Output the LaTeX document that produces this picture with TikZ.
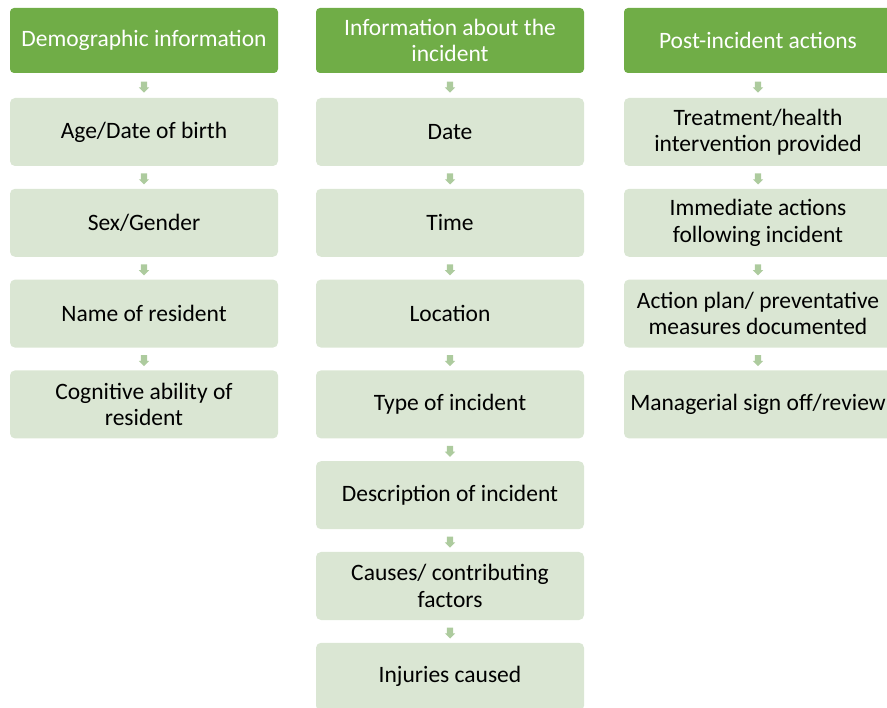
\documentclass[tikz,border=0pt]{standalone}
\usepackage{fontspec}
\setmainfont{Carlito}
\usetikzlibrary{calc,shapes.arrows}

\definecolor{hdgreen}{HTML}{70AD47}
\definecolor{boxgreen}{HTML}{DAE6D3}
\definecolor{arrgreen}{HTML}{ADCB9E}

\tikzset{
	head/.style={rectangle, rounded corners=4pt, fill=hdgreen, text=white,
		minimum width=268pt, minimum height=65pt, align=center, inner sep=2pt,
		font=\fontsize{23.5}{26.5}\selectfont},
	item/.style={rectangle, rounded corners=5pt, fill=boxgreen, text=black,
		minimum width=268pt, minimum height=68pt, align=center, inner sep=2pt,
		font=\fontsize{23.5}{26.5}\selectfont},
	downarrow/.style={single arrow, fill=arrgreen, shape border rotate=270,
		minimum height=11pt, inner sep=3pt, single arrow head extend=2pt}
}

\begin{document}
\begin{tikzpicture}[x=1pt,y=-1pt]
			
			%--- Khung ---
			\useasboundingbox (0,0) rectangle (887,708);
			\clip (0,0) rectangle (887,708);
			
			\def\rowgap{90.8} % khoảng cách giữa các ô
			\def\ytop{132}  % tâm ô đầu tiên
			
			%--- Tiêu đề ---
			\node[head] (h1) at (144,40.5) {Demographic information};
			\node[head] (h2) at (450,40.5) {Information about the\\incident};
			\node[head] (h3) at (758,40.5) {Post-incident actions};
			
			%--- Cột 1 ---
			\foreach \t [count=\i] in {Age/Date of birth, Sex/Gender, Name of resident,
				{Cognitive ability of\\resident}} {
				\node[item] (a\i) at (144,{\ytop+(\i-1)*\rowgap}) {\t};
			}
			
			%--- Cột 2 ---
			\foreach \t [count=\i] in {Date, Time, Location, Type of incident,
				Description of incident, {Causes/ contributing\\factors}, Injuries caused} {
				\node[item] (b\i) at (450,{\ytop+(\i-1)*\rowgap}) {\t};
			}
			
			%--- Cột 3 ---
			\foreach \t [count=\i] in {{Treatment/health\\intervention provided},
				{Immediate actions\\following incident},
				{Action plan/ preventative\\measures documented},
				Managerial sign off/review} {
				\node[item] (c\i) at (758,{\ytop+(\i-1)*\rowgap}) {\t};
			}
			
			%--- Mũi tên ---
			\node[downarrow] at ($(h1.south)!0.5!(a1.north)$) {};
			\node[downarrow] at ($(h2.south)!0.5!(b1.north)$) {};
			\node[downarrow] at ($(h3.south)!0.5!(c1.north)$) {};
			\foreach \i [evaluate=\i as \j using int(\i+1)] in {1,2,3} {
				\node[downarrow] at ($(a\i.south)!0.5!(a\j.north)$) {};
				\node[downarrow] at ($(c\i.south)!0.5!(c\j.north)$) {};
			}
			\foreach \i [evaluate=\i as \j using int(\i+1)] in {1,...,6} {
				\node[downarrow] at ($(b\i.south)!0.5!(b\j.north)$) {};
			}
			
		\end{tikzpicture}
\end{document}
